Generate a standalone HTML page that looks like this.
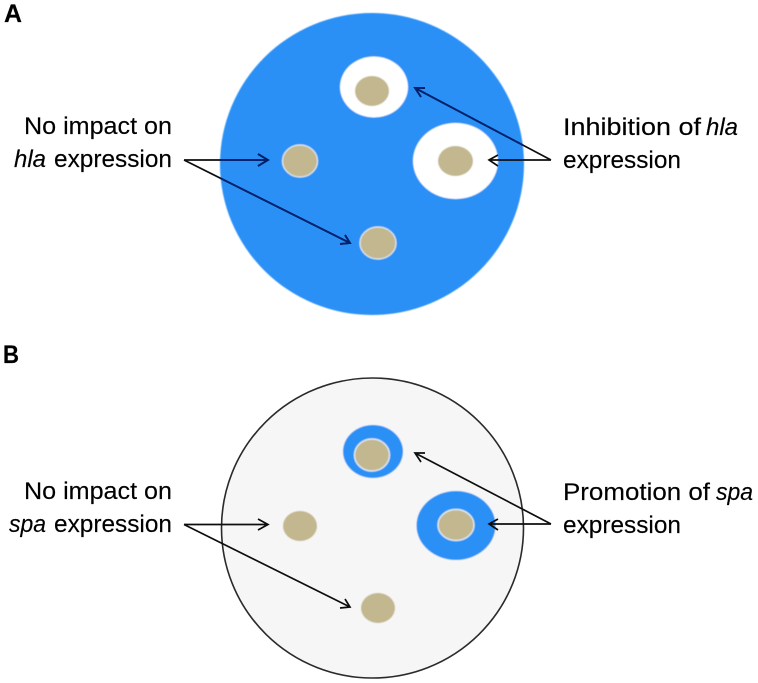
<!DOCTYPE html>
<html>
<head>
<meta charset="utf-8">
<style>
html,body{margin:0;padding:0;background:#fff;width:758px;height:683px;overflow:hidden}
svg{display:block}
text{font-family:"Liberation Sans",sans-serif;font-size:24.5px;fill:#000;stroke:#000;stroke-width:0.15}
.i{font-style:italic}
.b{font-weight:bold;font-size:25px;fill:#000}
.l{fill:none;stroke:#111;stroke-width:1.7}
.n{fill:none;stroke:#06246e;stroke-width:1.9}
</style>
</head>
<body>
<svg width="758" height="683" viewBox="0 0 758 683" xmlns="http://www.w3.org/2000/svg">
<defs>
<filter id="s" x="-5%" y="-5%" width="110%" height="110%"><feGaussianBlur stdDeviation="0.55"/></filter>
<filter id="t" x="-5%" y="-5%" width="110%" height="110%"><feGaussianBlur stdDeviation="0.25"/></filter>
<clipPath id="ca"><ellipse cx="372" cy="164" rx="152" ry="151"/></clipPath>
</defs>

<g filter="url(#s)">
<!-- Panel A -->
<ellipse cx="372" cy="164" rx="152" ry="151" fill="#2b90f6"/>
<ellipse cx="374" cy="87" rx="34" ry="30.5" fill="#fff"/>
<ellipse cx="372" cy="91" rx="17" ry="15" fill="#c2b78e"/>
<ellipse cx="455.5" cy="161" rx="42.5" ry="38" fill="#fff"/>
<ellipse cx="455.5" cy="161" rx="17.5" ry="15" fill="#c2b78e"/>
<ellipse cx="300" cy="161" rx="17.5" ry="16" fill="#c2b78e" stroke="#dfeaf2" stroke-width="1.2"/>
<ellipse cx="378" cy="243" rx="18" ry="16" fill="#c2b78e" stroke="#dfeaf2" stroke-width="1.2"/>
<!-- Panel B -->
<ellipse cx="372.5" cy="528" rx="151" ry="150" fill="#f6f6f6"/>
<ellipse cx="373" cy="451.5" rx="30" ry="26.5" fill="#2b90f6"/>
<ellipse cx="372" cy="455" rx="17.5" ry="16" fill="#c2b78e" stroke="#dfeaf2" stroke-width="1.4"/>
<ellipse cx="456" cy="525.5" rx="39.5" ry="34.5" fill="#2b90f6"/>
<ellipse cx="456" cy="525" rx="18" ry="15.5" fill="#c2b78e" stroke="#dfeaf2" stroke-width="1.4"/>
<ellipse cx="300" cy="526" rx="17" ry="15" fill="#c2b78e"/>
<ellipse cx="378" cy="608" rx="17" ry="15" fill="#c2b78e"/>
</g>

<g filter="url(#t)">
<ellipse cx="372.5" cy="528" rx="151" ry="150" fill="none" stroke="#2a2a2a" stroke-width="1.6"/>
<!-- Arrows A -->
<path class="l" d="M184 160H268M258 154L268 160L258 166"/>
<path class="l" d="M184 160L350 243M340 244L350 243L345 235"/>
<path class="l" d="M551 160L415 88M425 88L415 88L421 97"/>
<path class="l" d="M551 160H489M498 155L489 160L498 166"/>
<g clip-path="url(#ca)">
<path class="n" d="M184 160H268M258 154L268 160L258 166"/>
<path class="n" d="M184 160L350 243M340 244L350 243L345 235"/>
<path class="n" d="M551 160L415 88M425 88L415 88L421 97"/>
</g>
<!-- Arrows B -->
<path class="l" d="M184 524.5H268M258 519L268 524.5L258 530"/>
<path class="l" d="M184 524.5L350 607M340 608L350 607L345 599"/>
<path class="l" d="M551 524L415 453M425 453L415 453L421 462"/>
<path class="l" d="M551 524H489M498 519L489 524L498 530"/>

<!-- Labels -->
<text class="b" x="4" y="22" textLength="18" lengthAdjust="spacingAndGlyphs">A</text>
<text class="b" x="3" y="363" textLength="16" lengthAdjust="spacingAndGlyphs">B</text>

<text x="24" y="134" textLength="148" lengthAdjust="spacingAndGlyphs">No impact on</text>
<text class="i" x="14" y="167" textLength="32" lengthAdjust="spacingAndGlyphs">hla</text>
<text x="54" y="167" textLength="118" lengthAdjust="spacingAndGlyphs">expression</text>

<text x="563" y="135" textLength="138" lengthAdjust="spacingAndGlyphs">Inhibition of</text>
<text class="i" x="706" y="135" textLength="32" lengthAdjust="spacingAndGlyphs">hla</text>
<text x="563" y="168" textLength="118" lengthAdjust="spacingAndGlyphs">expression</text>

<text x="24" y="499" textLength="148" lengthAdjust="spacingAndGlyphs">No impact on</text>
<text class="i" x="9" y="532" textLength="37" lengthAdjust="spacingAndGlyphs">spa</text>
<text x="54" y="532" textLength="118" lengthAdjust="spacingAndGlyphs">expression</text>

<text x="563" y="500" textLength="147" lengthAdjust="spacingAndGlyphs">Promotion of</text>
<text class="i" x="716" y="500" textLength="37" lengthAdjust="spacingAndGlyphs">spa</text>
<text x="563" y="533" textLength="118" lengthAdjust="spacingAndGlyphs">expression</text>
</g>
</svg>
</body>
</html>
